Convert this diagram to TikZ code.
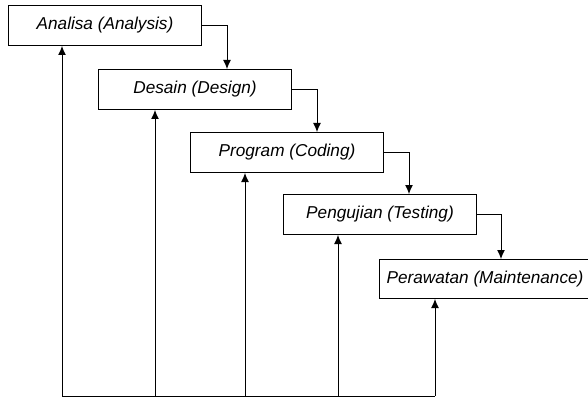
\documentclass[tikz,border=0pt]{standalone}
\usepackage{fontspec}
\setmainfont{Liberation Sans}
\usetikzlibrary{arrows.meta}

\tikzset{
  tahap/.style={draw, line width=1pt, anchor=north west, inner sep=0pt,
    minimum width=193pt, minimum height=40pt,
    font=\fontsize{17.2}{20}\selectfont\itshape},
  panah/.style={line width=1pt, -{Latex[length=9pt,width=8pt]}}
}

\begin{document}
\begin{tikzpicture}[x=1pt,y=-1pt]
\useasboundingbox (0,0) rectangle (588,398);

\node [tahap] (analisa) at (8,5) {Analisa (Analysis)};
\node [tahap] (desain) at (98,69) {Desain (Design)};
\node [tahap] (program) at (190,132) {Program (Coding)};
\node [tahap] (uji) at (283,194) {Pengujian (Testing)};
\node [tahap, minimum width=211pt, minimum height=39pt] (rawat) at (379,259) {Perawatan (Maintenance)};

% turun ke tahap berikutnya
\draw [panah] (analisa.east) -- ++(25,0) coordinate (k1) -- (k1 |- desain.north);
\draw [panah] (desain.east) -- ++(25,0) coordinate (k2) -- (k2 |- program.north);
\draw [panah] (program.east) -- ++(25,0) coordinate (k3) -- (k3 |- uji.north);
\draw [panah] (uji.east) -- ++(24,0) coordinate (k4) -- (k4 |- rawat.north);

% balik ke atas
\coordinate (b1) at (62,396);
\coordinate (b2) at (155,396);
\coordinate (b3) at (245,396);
\coordinate (b4) at (338,396);
\coordinate (b5) at (435,396);

\draw [line width=1pt] (b1) -- (b5);
\draw [panah] (b1) -- (b1 |- analisa.south);
\draw [panah] (b2) -- (b2 |- desain.south);
\draw [panah] (b3) -- (b3 |- program.south);
\draw [panah] (b4) -- (b4 |- uji.south);
\draw [panah] (b5) -- (b5 |- rawat.south);

\end{tikzpicture}
\end{document}
